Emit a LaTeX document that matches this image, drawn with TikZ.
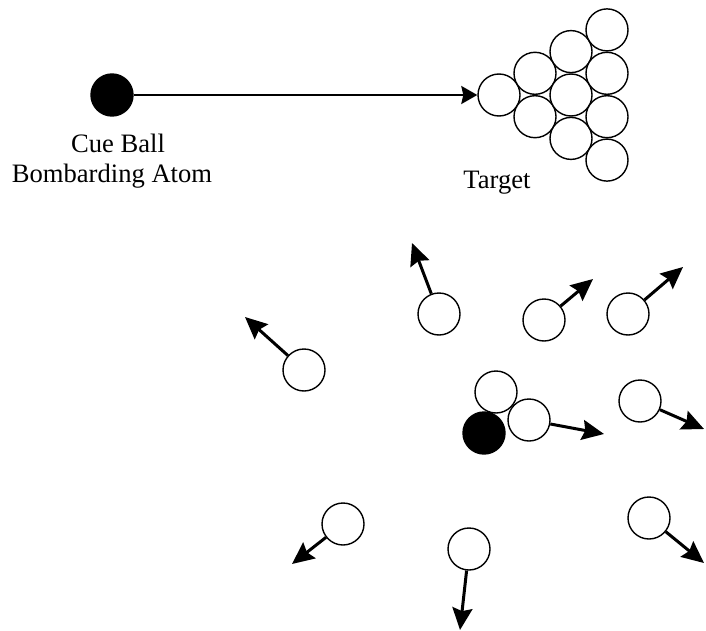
\documentclass[tikz,border=0pt]{standalone}
\usepackage{fontspec}
\setmainfont{Liberation Serif}
\usetikzlibrary{arrows.meta}
\begin{document}
\begin{tikzpicture}[x=0.5pt,y=-0.5pt]
	\tikzstyle{ball} = [circle,draw,fill=white,line width=0.7pt,minimum size=21pt,inner sep=0pt]
	\tikzstyle{cue} = [ball,fill=black]
	\tikzstyle{shot} = [-{Stealth[length=8pt,width=9pt,inset=1pt]},line width=1pt]
	\tikzstyle{kick} = [-{Stealth[length=11pt,width=10pt,inset=1.5pt]},line width=1.5pt]
	\tikzstyle{caption} = [anchor=base,inner sep=0pt,font=\fontsize{13.3}{15}\selectfont]
	\useasboundingbox (0,0) rectangle (706,631);
	
	% before the break
	\node[cue] (cue) at (112,95) {};
	\node[caption] (cuename) at (118,152) {Cue Ball};
	\node[caption] (atomname) at (112,182) {Bombarding Atom};
	
	\node[ball] (t1) at (499,95) {};
	\node[ball] (t2) at (535,73.3) {};
	\node[ball] (t3) at (535,116.7) {};
	\node[ball] (t4) at (571,51.6) {};
	\node[ball] (t5) at (571,95) {};
	\node[ball] (t6) at (571,138.4) {};
	\node[ball] (t7) at (607,29.9) {};
	\node[ball] (t8) at (607,73.3) {};
	\node[ball] (t9) at (607,116.7) {};
	\node[ball] (t10) at (607,160.1) {};
	\node[caption] (targetname) at (497,188) {Target};
	
	\path (cue) edge[shot] (t1);
	
	% after the break
	\node[ball] (a1) at (304,370) {};
	\node[ball] (a2) at (439,314) {};
	\node[ball] (a3) at (544,320) {};
	\node[ball] (a4) at (628,314) {};
	\node[ball] (a5) at (496,392) {};
	\node[cue] (hit) at (484,433) {};
	\node[ball] (a6) at (529,420) {};
	\node[ball] (a7) at (640,401) {};
	\node[ball] (a8) at (343,524) {};
	\node[ball] (a9) at (469,549) {};
	\node[ball] (a10) at (649,518) {};
	
	\coordinate (a1to) at (245,317);
	\coordinate (a2to) at (412,243);
	\coordinate (a3to) at (593,279);
	\coordinate (a4to) at (683,267);
	\coordinate (a6to) at (604,434);
	\coordinate (a7to) at (704,429);
	\coordinate (a8to) at (292,564);
	\coordinate (a9to) at (460,630);
	\coordinate (a10to) at (704,563);
	
	\path (a1) edge[kick] (a1to);
	\path (a2) edge[kick] (a2to);
	\path (a3) edge[kick] (a3to);
	\path (a4) edge[kick] (a4to);
	\path (a6) edge[kick] (a6to);
	\path (a7) edge[kick] (a7to);
	\path (a8) edge[kick] (a8to);
	\path (a9) edge[kick] (a9to);
	\path (a10) edge[kick] (a10to);
\end{tikzpicture}
\end{document}
